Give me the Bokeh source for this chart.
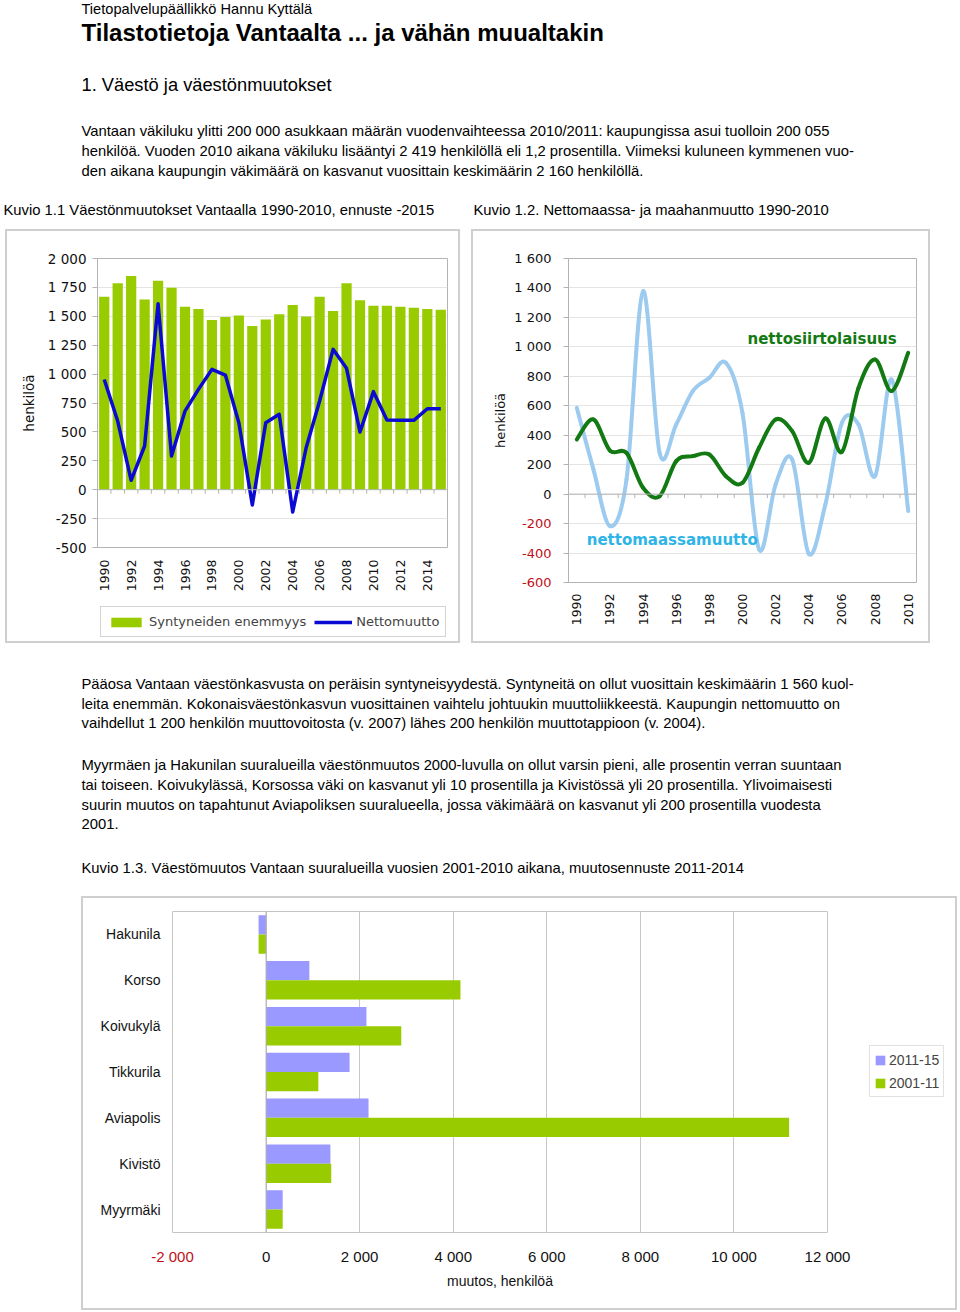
import math
from bokeh.plotting import figure
from bokeh.models import (ColumnDataSource, Range1d, FactorRange, FixedTicker, Span, Label,
                          Legend, LegendItem, Spacer, InlineStyleSheet, LinearAxis)
from bokeh.layouts import column, row
from bokeh.transform import dodge
from bokeh.core.properties import value
from bokeh.embed import file_html
from bokeh.resources import INLINE

# ---------------- data ----------------
years1 = list(range(1990, 2016))
births_surplus = [1670, 1785, 1848, 1646, 1808, 1747, 1583, 1563, 1468, 1494, 1508, 1416, 1473,
                  1517, 1597, 1499, 1670, 1546, 1785, 1638, 1592, 1592, 1583, 1574, 1563, 1557]
net_migration = [954, 594, 81, 378, 1609, 291, 680, 868, 1041, 992, 580, -133, 580, 652, -193,
                 363, 767, 1214, 1050, 499, 848, 603, 600, 600, 700, 700]
y1_ticks = list(range(-500, 2001, 250))

years2 = list(range(1990, 2011))
domestic_net = [586, 170, -217, 100, 1378, 280, 473, 700, 790, 892, 550, -376, 66, 235, -405,
                -70, 484, 473, 122, 778, -115]
emigration_net = [371, 507, 296, 280, 43, -14, 224, 258, 269, 122, 77, 315, 507, 428, 213, 514,
                  287, 722, 914, 700, 960]
y2_ticks = list(range(-600, 1601, 200))

areas = ["Hakunila", "Korso", "Koivukylä", "Tikkurila", "Aviapolis", "Kivistö", "Myyrmäki"]
change_2011_15 = [-160, 925, 2145, 1785, 2190, 1375, 355]
change_2001_11 = [-160, 4155, 2890, 1117, 11180, 1393, 355]
x3_ticks = list(range(-2000, 12001, 2000))

author = "Tietopalvelupäällikkö Hannu Kyttälä"
title = "Tilastotietoja Vantaalta ... ja vähän muualtakin"
section = "1. Väestö ja väestönmuutokset"
para1 = ["Vantaan väkiluku ylitti 200 000 asukkaan määrän vuodenvaihteessa 2010/2011: kaupungissa asui tuolloin 200 055",
         "henkilöä. Vuoden 2010 aikana väkiluku lisääntyi 2 419 henkilöllä eli 1,2 prosentilla. Viimeksi kuluneen kymmenen vuo-",
         "den aikana kaupungin väkimäärä on kasvanut vuosittain keskimäärin 2 160 henkilöllä."]
cap1 = "Kuvio 1.1  Väestönmuutokset Vantaalla 1990-2010, ennuste -2015"
cap2 = "Kuvio 1.2. Nettomaassa- ja maahanmuutto 1990-2010"
para2 = ["Pääosa Vantaan väestönkasvusta on peräisin syntyneisyydestä. Syntyneitä on ollut vuosittain keskimäärin 1 560 kuol-",
         "leita enemmän. Kokonaisväestönkasvun vuosittainen vaihtelu johtuukin muuttoliikkeestä. Kaupungin nettomuutto on",
         "vaihdellut 1 200 henkilön muuttovoitosta (v. 2007) lähes 200 henkilön muuttotappioon (v. 2004)."]
para3 = ["Myyrmäen ja Hakunilan suuralueilla väestönmuutos 2000-luvulla on ollut varsin pieni, alle prosentin verran suuntaan",
         "tai toiseen. Koivukylässä, Korsossa väki on kasvanut yli 10 prosentilla ja Kivistössä yli 20 prosentilla. Ylivoimaisesti",
         "suurin muutos on tapahtunut Aviapoliksen suuralueella, jossa väkimäärä on kasvanut yli 200 prosentilla vuodesta",
         "2001."]
cap3 = "Kuvio 1.3.  Väestömuutos Vantaan suuralueilla vuosien 2001-2010 aikana, muutosennuste 2011-2014"

TXT = "Liberation Sans"
CH = "DejaVu Sans"
GRID = "#e4e4e4"
AXC = "#b4b4b4"
BODY = "14.8px"
RED = "#c0101a"


def box_css():
    return InlineStyleSheet(css=":host { box-shadow: inset 0 0 0 2px #cfcfcf; background: #ffffff; }")


def fmt(v):
    return f"{v:,}".replace(",", " ")


def text_fig(w, h):
    p = figure(width=w, height=h, x_range=Range1d(0, w), y_range=Range1d(h, 0),
               x_axis_type=None, y_axis_type=None, output_backend="svg", toolbar_location=None,
               min_border=0, outline_line_color=None)
    p.grid.visible = False
    return p


def blank_fig(w, h, x_range, y_range):
    p = figure(width=w, height=h, x_range=x_range, y_range=y_range,
               x_axis_type=None, y_axis_type=None, output_backend="svg", toolbar_location=None,
               min_border=0, outline_line_color=None, background_fill_color=None,
               border_fill_color=None)
    p.grid.visible = False
    return p


def add_text(p, xs, ys, texts, size, bold=False, color="#000000"):
    src = ColumnDataSource(dict(x=xs, y=ys, t=texts))
    p.text(x="x", y="y", text="t", source=src, text_font=value(TXT), text_font_size=size,
           text_font_style="bold" if bold else "normal", text_color=color,
           text_baseline="middle", text_align="left")


def smooth(xs, ys):
    n = len(xs)
    d = dict(x0=[], y0=[], x1=[], y1=[], cx0=[], cy0=[], cx1=[], cy1=[])
    for i in range(n - 1):
        xp, yp = (xs[i - 1], ys[i - 1]) if i > 0 else (xs[i], ys[i])
        xn, yn = (xs[i + 2], ys[i + 2]) if i + 2 < n else (xs[i + 1], ys[i + 1])
        d["x0"].append(xs[i]); d["y0"].append(ys[i])
        d["x1"].append(xs[i + 1]); d["y1"].append(ys[i + 1])
        d["cx0"].append(xs[i] + (xs[i + 1] - xp) / 6); d["cy0"].append(ys[i] + (ys[i + 1] - yp) / 6)
        d["cx1"].append(xs[i + 1] - (xn - xs[i]) / 6); d["cy1"].append(ys[i + 1] - (yn - ys[i]) / 6)
    return ColumnDataSource(d)


def style_axis(ax, font, size, color="#111111"):
    ax.major_label_text_font = font
    ax.major_label_text_font_size = size
    ax.major_label_text_color = color
    ax.axis_label_text_font = font
    ax.axis_label_text_font_size = size
    ax.axis_label_text_font_style = "normal"
    ax.axis_label_text_color = "#111111"
    ax.minor_tick_line_color = None
    ax.minor_tick_out = 0
    ax.minor_tick_in = 0


# ---------------- header ----------------
hdr = text_fig(960, 229)
add_text(hdr, [81], [8], [author], "14.6px")
add_text(hdr, [81], [32], [title], "24px", bold=True)
add_text(hdr, [81], [84], [section], "18.3px")
add_text(hdr, [81, 81, 81], [130, 150, 170], para1, BODY)
add_text(hdr, [3, 473], [209, 209], [cap1, cap2], BODY)

# ---------------- chart 1 ----------------
p1 = figure(width=455, height=368, x_range=Range1d(1989.5, 2015.5), y_range=Range1d(-500, 2000),
            output_backend="svg", toolbar_location=None, min_border_left=92, min_border_right=13,
            min_border_top=29, min_border_bottom=50, outline_line_color=AXC,
            border_fill_color=None)
src1 = ColumnDataSource(dict(year=years1, births=births_surplus, net=net_migration))
p1.vbar(x="year", top="births", width=0.76, source=src1, fill_color="#99cc00", line_color=None)
p1.add_layout(Span(location=0, dimension="width", line_color=AXC, line_width=1))
p1.segment(x0=[y + 0.5 for y in years1[:-1]], y0=[0] * 25, x1=[y + 0.5 for y in years1[:-1]],
           y1=[-35] * 25, line_color=AXC, line_width=1)
p1.line(x="year", y="net", source=src1, line_color="#0a0ad2", line_width=3.5, line_join="round")
p1.yaxis.ticker = FixedTicker(ticks=y1_ticks)
p1.yaxis.major_label_overrides = {v: fmt(v) for v in y1_ticks}
p1.yaxis.axis_label = "henkilöä"
p1.yaxis.axis_line_color = AXC
p1.yaxis.major_tick_line_color = AXC
p1.yaxis.major_tick_in = 0
p1.yaxis.major_tick_out = 5
p1.yaxis.major_label_standoff = 6
p1.yaxis.axis_label_standoff = 8
p1.xaxis.ticker = FixedTicker(ticks=years1[::2])
p1.xaxis.major_label_orientation = math.pi / 2
p1.xaxis.axis_line_color = None
p1.xaxis.major_tick_line_color = None
p1.xaxis.major_tick_out = 0
p1.xaxis.major_tick_in = 0
p1.xaxis.major_label_standoff = 12
p1.xgrid.visible = False
p1.ygrid.grid_line_color = GRID
p1.ygrid.ticker = FixedTicker(ticks=y1_ticks)
for ax in p1.axis:
    style_axis(ax, CH, "13.5px")
p1.xaxis.major_label_text_font_size = "12.5px"

# legend strip of chart 1 (hidden proxies of the same series)
lg1 = blank_fig(455, 46, Range1d(0, 1), Range1d(0, 1))
lr_bar = lg1.vbar(x="year", top="births", width=0.76, source=src1, fill_color="#99cc00",
                  line_color=None, visible=False)
lr_line = lg1.line(x="year", y="net", source=src1, line_color="#0a0ad2", line_width=3.5,
                   visible=False)
leg1 = Legend(items=[LegendItem(label="Syntyneiden enemmyys", renderers=[lr_bar]),
                     LegendItem(label="Nettomuutto", renderers=[lr_line])],
              orientation="horizontal", location=(3, 6), glyph_width=38, glyph_height=12,
              label_standoff=4, spacing=8, padding=6, margin=0, border_line_color="#a8a8a8",
              label_text_font=CH, label_text_font_size="13px", label_height=17,
              background_fill_color="#ffffff", inactive_fill_alpha=0)
lg1.add_layout(leg1)
box1 = column(p1, lg1, stylesheets=[box_css()])

# ---------------- chart 2 ----------------
p2 = figure(width=459, height=414, x_range=Range1d(1989.5, 2010.5), y_range=Range1d(-600, 1600),
            output_backend="svg", toolbar_location=None, min_border_left=97, min_border_right=14,
            min_border_top=29, min_border_bottom=61, outline_line_color=AXC,
            border_fill_color=None, stylesheets=[box_css()])
p2.add_layout(Span(location=0, dimension="width", line_color=AXC, line_width=1))
p2.segment(x0=[y + 0.5 for y in years2[:-1]], y0=[0] * 20, x1=[y + 0.5 for y in years2[:-1]],
           y1=[-27] * 20, line_color=AXC, line_width=1)
p2.bezier(x0="x0", y0="y0", x1="x1", y1="y1", cx0="cx0", cy0="cy0", cx1="cx1", cy1="cy1",
          source=smooth(years2, domestic_net), line_color="#9dcbef", line_width=4,
          line_cap="round")
p2.bezier(x0="x0", y0="y0", x1="x1", y1="y1", cx0="cx0", cy0="cy0", cx1="cx1", cy1="cy1",
          source=smooth(years2, emigration_net), line_color="#137a13", line_width=4,
          line_cap="round")
# inner left axis: all tick marks, red labels for negative values
ya = p2.yaxis[0]
ya.ticker = FixedTicker(ticks=y2_ticks)
ya.major_label_overrides = {v: (fmt(v) if v < 0 else "") for v in y2_ticks}
ya.axis_line_color = AXC
ya.major_tick_line_color = AXC
ya.major_tick_in = 0
ya.major_tick_out = 5
ya.major_label_standoff = 12
style_axis(ya, CH, "13px", RED)
# outer left axis: black labels for the other values, pulled onto the same column
yb = LinearAxis(ticker=FixedTicker(ticks=[v for v in y2_ticks if v >= 0]),
                major_label_overrides={v: fmt(v) for v in y2_ticks if v >= 0},
                axis_line_color=None, major_tick_line_color=None, major_tick_in=0,
                major_tick_out=0, major_label_standoff=-33, axis_label="henkilöä",
                axis_label_standoff=3)
style_axis(yb, CH, "13px")
p2.add_layout(yb, "left")
p2.xaxis.ticker = FixedTicker(ticks=years2[::2])
p2.xaxis.major_label_orientation = math.pi / 2
p2.xaxis.axis_line_color = None
p2.xaxis.major_tick_line_color = None
p2.xaxis.major_tick_out = 0
p2.xaxis.major_tick_in = 0
p2.xaxis.major_label_standoff = 11
style_axis(p2.xaxis[0], CH, "12.5px")
p2.xgrid.visible = False
p2.ygrid.grid_line_color = GRID
p2.ygrid.ticker = FixedTicker(ticks=y2_ticks)
p2.add_layout(Label(x=2000.3, y=1052, text="nettosiirtolaisuus", text_baseline="middle",
                    text_color="#137a13", text_font=CH, text_font_size="15px",
                    text_font_style="bold"))
p2.add_layout(Label(x=1990.6, y=-312, text="nettomaassamuutto", text_baseline="middle",
                    text_color="#2eb4e6", text_font=CH, text_font_size="15px",
                    text_font_style="bold"))

# ---------------- middle text ----------------
mid = text_fig(960, 253)
add_text(mid, [81, 81, 81], [40, 60, 79], para2, BODY)
add_text(mid, [81, 81, 81, 81], [121, 141, 161, 180], para3, BODY)
add_text(mid, [81], [224], [cap3], BODY)

# ---------------- chart 3 ----------------
p3 = figure(width=771, height=414, x_range=Range1d(-2000, 12000),
            y_range=FactorRange(factors=areas[::-1]), output_backend="svg",
            toolbar_location=None, min_border_left=91, min_border_right=25, min_border_top=15,
            min_border_bottom=78, outline_line_color="#c4c4c4", border_fill_color=None)
src3 = ColumnDataSource(dict(area=areas, a=change_2011_15, b=change_2001_11))
p3.hbar(y=dodge("area", 0.21, range=p3.y_range), right="a", left=0, height=0.42,
        source=src3, fill_color="#9999ff", line_color=None)
p3.hbar(y=dodge("area", -0.21, range=p3.y_range), right="b", left=0, height=0.42,
        source=src3, fill_color="#99cc00", line_color=None)
p3.add_layout(Span(location=0, dimension="height", line_color="#b0b0b0", line_width=1))
xa = p3.xaxis[0]
xa.ticker = FixedTicker(ticks=x3_ticks)
xa.major_label_overrides = {v: (fmt(v) if v >= 0 else "") for v in x3_ticks}
xa.axis_line_color = None
xa.major_tick_line_color = None
xa.major_tick_out = 0
xa.major_tick_in = 0
xa.major_label_standoff = 15
style_axis(xa, TXT, "15px")
xb = LinearAxis(ticker=FixedTicker(ticks=[v for v in x3_ticks if v < 0]),
                major_label_overrides={v: fmt(v) for v in x3_ticks if v < 0},
                axis_line_color=None, major_tick_line_color=None, major_tick_in=0,
                major_tick_out=0, major_label_standoff=-20, axis_label="muutos, henkilöä",
                axis_label_standoff=5)
style_axis(xb, TXT, "15px", RED)
xb.axis_label_text_font_size = "14px"
p3.add_layout(xb, "below")
p3.yaxis.axis_line_color = None
p3.yaxis.major_tick_line_color = None
p3.yaxis.major_tick_out = 0
p3.yaxis.major_tick_in = 0
p3.yaxis.major_label_standoff = 12
style_axis(p3.yaxis[0], TXT, "14px")
p3.ygrid.visible = False
p3.xgrid.grid_line_color = "#c8c8c8"
p3.xgrid.ticker = FixedTicker(ticks=x3_ticks)

# legend strip of chart 3 (hidden proxies of the same series)
lg3 = blank_fig(105, 414, Range1d(0, 1), FactorRange(factors=areas[::-1]))
lr_a = lg3.hbar(y="area", right="a", left=0, height=0.42, source=src3, fill_color="#9999ff",
                line_color=None, visible=False)
lr_b = lg3.hbar(y="area", right="b", left=0, height=0.42, source=src3, fill_color="#99cc00",
                line_color=None, visible=False)
leg3 = Legend(items=[LegendItem(label="2011-15", renderers=[lr_a]),
                     LegendItem(label="2001-11", renderers=[lr_b])],
              location=(17, 135), glyph_width=12, glyph_height=12, label_standoff=3,
              spacing=4, padding=4, margin=0, border_line_color="#c4c4c4",
              label_text_font=TXT, label_text_font_size="14px", label_height=19,
              background_fill_color="#ffffff", inactive_fill_alpha=0)
lg3.add_layout(leg3)
box3 = row(p3, lg3, stylesheets=[box_css()])

page = column(
    hdr,
    row(Spacer(width=5, height=414), box1, Spacer(width=11, height=414), p2,
        Spacer(width=30, height=414)),
    mid,
    row(Spacer(width=81, height=414), box3, Spacer(width=3, height=414)),
)

open("out.html", "w").write(file_html(page, INLINE))
